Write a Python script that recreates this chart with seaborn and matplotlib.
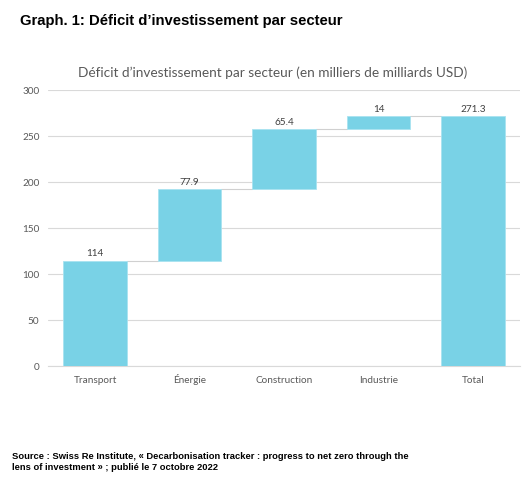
import matplotlib
matplotlib.use("Agg")
import matplotlib.pyplot as plt
import seaborn as sns
import numpy as np
import pandas as pd

categories = ["Transport", "Énergie", "Construction", "Industrie", "Total"]
values = [114, 77.9, 65.4, 14, 271.3]
labels = ["114", "77.9", "65.4", "14", "271.3"]
is_total = [False, False, False, False, True]
yticks = [0, 50, 100, 150, 200, 250, 300]

# waterfall bases
bases = []
run = 0.0
for v, t in zip(values, is_total):
    if t:
        bases.append(0.0)
    else:
        bases.append(run)
        run += v

df = pd.DataFrame({"cat": categories, "val": values, "base": bases})

sns.set_theme(style="white")
plt.rcParams["font.family"] = ["Lato", "DejaVu Sans"]

fig = plt.figure(figsize=(5.26, 4.8), dpi=100)
ax = fig.add_axes([0.091, 0.2375, 0.898, 0.575])

bar_color = "#79D2E6"
sns.barplot(data=df, x="cat", y="val", bottom=np.array(bases), color=bar_color,
            saturation=1, width=0.67, edgecolor="#A8E3F0", linewidth=0.6, ax=ax, zorder=3)

ax.set_ylim(0, 300)
ax.set_yticks(yticks)
ax.set_xlim(-0.5, len(categories) - 0.5)
ax.grid(axis="y", color="#D9D9D9", linewidth=0.8, zorder=0)
ax.set_axisbelow(True)
for s in ["top", "right", "left"]:
    ax.spines[s].set_visible(False)
ax.spines["bottom"].set_color("#D9D9D9")
ax.spines["bottom"].set_linewidth(0.8)
ax.set_xlabel("")
ax.set_ylabel("")
ax.tick_params(axis="both", length=0, labelsize=7.2, labelcolor="#595959")
ax.tick_params(axis="y", pad=6)
ax.tick_params(axis="x", pad=12.5)
for lab in ax.get_xticklabels():
    lab.set_verticalalignment("baseline")

patches = ax.patches
tops = [b + v for b, v in zip(bases, values)]
for i, p in enumerate(patches):
    cx = p.get_x() + p.get_width() / 2
    ax.text(cx, tops[i] + 3, labels[i], ha="center", va="bottom", fontsize=7.2, color="#404040")
for i in range(len(patches) - 1):
    p0, p1 = patches[i], patches[i + 1]
    lvl = tops[i]
    ax.plot([p0.get_x() + p0.get_width(), p1.get_x()], [lvl, lvl], color="#D0D0D0", linewidth=0.8, zorder=2)

fig.text(0.519, 0.848, "Déficit d’investissement par secteur (en milliers de milliards USD)",
         ha="center", va="center", fontsize=9.8, color="#595959")
fig.text(0.038, 0.957, "Graph. 1: Déficit d’investissement par secteur",
         ha="left", va="center", fontsize=10.7, fontweight="bold", color="black",
         family=["Liberation Sans", "DejaVu Sans"])
fig.text(0.023, 0.038, "Source : Swiss Re Institute, « Decarbonisation tracker : progress to net zero through the\nlens of investment » ; publié le 7 octobre 2022",
         ha="left", va="center", fontsize=6.75, fontweight="bold", color="black", linespacing=1.3,
         family=["Liberation Sans", "DejaVu Sans"])

fig.savefig("out.png", dpi=100)
